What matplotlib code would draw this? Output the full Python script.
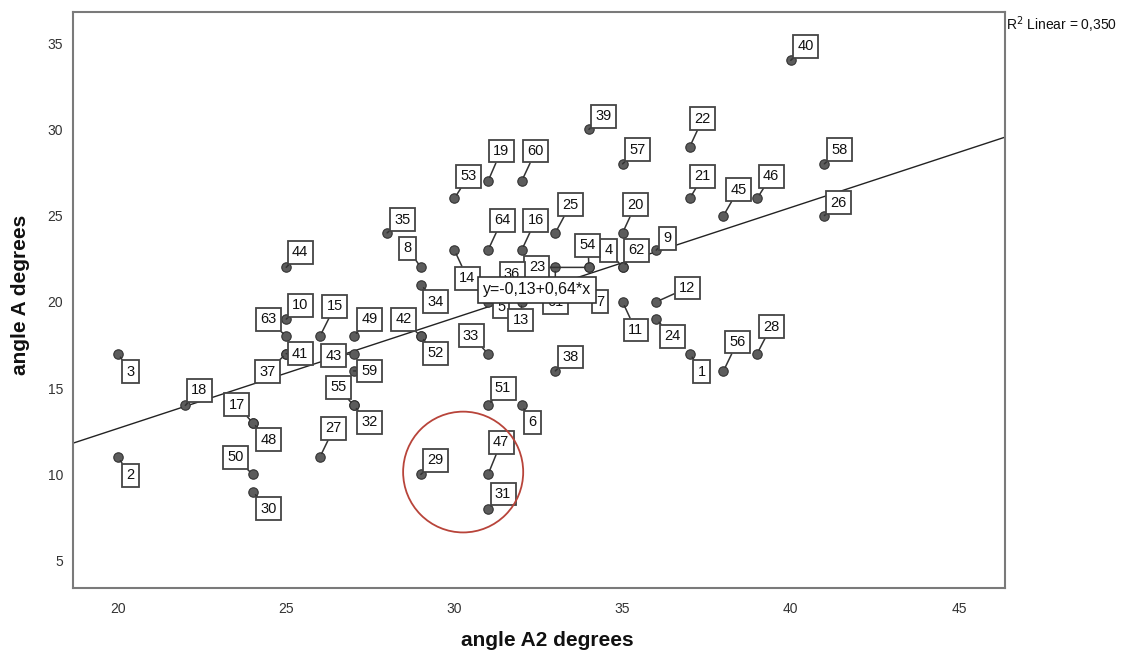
import matplotlib
matplotlib.use("Agg")
import matplotlib.pyplot as plt
from matplotlib.patches import Ellipse

plt.rcParams['font.family'] = ['Liberation Sans', 'DejaVu Sans']

# ---- data ----
case_ids = [1, 2, 3, 4, 5, 6, 7, 8, 9, 10,
            11, 12, 13, 14, 15, 16, 17, 18, 19, 20,
            21, 22, 23, 24, 25, 26, 27, 28, 29, 30,
            31, 32, 33, 34, 35, 36, 37, 38, 39, 40,
            41, 42, 43, 44, 45, 46, 47, 48, 49, 50,
            51, 52, 53, 54, 55, 56, 57, 58, 59, 60,
            61, 62, 63, 64]
angle_a2 = [37, 20, 20, 35, 31, 32, 34, 29, 36, 25,
            35, 36, 32, 30, 26, 32, 24, 22, 31, 35,
            37, 37, 34, 36, 33, 41, 26, 39, 29, 24,
            31, 27, 31, 29, 28, 31, 25, 33, 34, 40,
            25, 29, 27, 25, 38, 39, 31, 24, 27, 24,
            31, 29, 30, 34, 27, 38, 35, 41, 27, 32,
            33, 35, 25, 31]
angle_a = [17, 11, 17, 22, 20, 14, 21, 22, 23, 19,
           20, 20, 20, 23, 18, 23, 13, 14, 27, 24,
           26, 29, 22, 19, 24, 25, 11, 17, 10, 9,
           8, 14, 17, 21, 24, 21, 17, 16, 30, 34,
           17, 18, 17, 22, 25, 26, 10, 13, 18, 10,
           14, 18, 26, 22, 14, 16, 28, 28, 16, 27,
           22, 22, 18, 23]

intercept = -0.13
slope = 0.64
r_squared = "0,350"
equation = "y=-0,13+0,64*x"

x_ticks = [20, 25, 30, 35, 40, 45]
y_ticks = [5, 10, 15, 20, 25, 30, 35]

# ---- layout: label offsets in pixels (dx right, dy down) ----
label_offsets = [(12, 18), (12, 18), (12, 18), (-14, -17), (13, 5), (11, 17), (11, 17), (-13, -19), (11, -12), (14, -14),
                 (13, 28), (31, -14), (-1, 18), (13, 28), (15, -30), (14, -30), (-16, -18), (14, -15), (13, -30), (13, -28),
                 (13, -22), (13, -28), (-52, 0), (16, 17), (15, -28), (14, -13), (14, -29), (14, -27), (15, -14), (16, 17),
                 (15, -15), (16, 17), (-17, -18), (15, 17), (15, -13), (24, -11), (-19, 18), (15, -14), (15, -13), (15, -14),
                 (14, 0), (-17, -17), (-20, 2), (14, -15), (15, -26), (14, -22), (13, -32), (16, 17), (16, -17), (-17, -17),
                 (15, -17), (15, 17), (14, -22), (-1, -22), (-15, -18), (14, -29), (15, -14), (15, -14), (16, 0), (14, -30),
                 (0, 35), (14, -17), (-18, -17), (14, -30)]

DPI = 100
fig = plt.figure(figsize=(1133 / DPI, 654 / DPI), dpi=DPI)
ax = fig.add_axes([73 / 1133, 1 - 588 / 654, (1005 - 73) / 1133, (588 - 12) / 654])

ax.set_xlim(18.66, 46.37)
ax.set_ylim(3.42, 36.8)

# regression line
ax.axline((0, intercept), slope=slope, color='#222222', lw=1.0, zorder=2)

# points
ax.scatter(angle_a2, angle_a, s=46, color='#5c5c5c', edgecolor='#333333', linewidth=0.8, zorder=4)

# point labels
px2pt = 72 / DPI
for cid, xv, yv, (dx, dy) in zip(case_ids, angle_a2, angle_a, label_offsets):
    ax.annotate(str(cid), xy=(xv, yv), xytext=(dx * px2pt, -dy * px2pt), textcoords='offset points',
                ha='center', va='center', fontsize=10.5, color='#111111', zorder=5,
                bbox=dict(boxstyle='square,pad=0.3', fc='white', ec='#444444', lw=1.3),
                arrowprops=dict(arrowstyle='-', color='#333333', lw=1.1, shrinkA=0, shrinkB=3))

# equation box
ax.text(32.46, 20.69, equation, ha='center', va='center', fontsize=11.5, color='#111111', zorder=7,
        bbox=dict(boxstyle='square,pad=0.32', fc='white', ec='#333333', lw=1.2))

# highlight circle
ax.add_patch(Ellipse((30.26, 10.14), width=3.57, height=7.0, fill=False, ec='#b8443a', lw=1.3, zorder=6))

ax.set_xticks(x_ticks)
ax.set_yticks(y_ticks)
ax.tick_params(length=0, labelsize=10, labelcolor='#333333')
ax.tick_params(axis='x', pad=10)
ax.tick_params(axis='y', pad=7)
for s in ax.spines.values():
    s.set_color('#7a7a7a')
    s.set_linewidth(1.5)

ax.set_xlabel('angle A2 degrees', fontsize=15, fontweight='bold', color='#111111')
ax.set_ylabel('angle A degrees', fontsize=15, fontweight='bold', color='#111111')
ax.xaxis.set_label_coords((547 - 73) / 932, -(641 - 588) / 576)
ax.yaxis.set_label_coords(-(73 - 21) / 932, (588 - 295) / 576)
ax.xaxis.label.set_va('center')
ax.yaxis.label.set_va('center')

fig.text(1006 / 1133, 1 - 25 / 654, 'R$^2$ Linear = ' + r_squared, fontsize=10, va='center', ha='left', color='#111111')

fig.savefig('out.png', dpi=DPI)
